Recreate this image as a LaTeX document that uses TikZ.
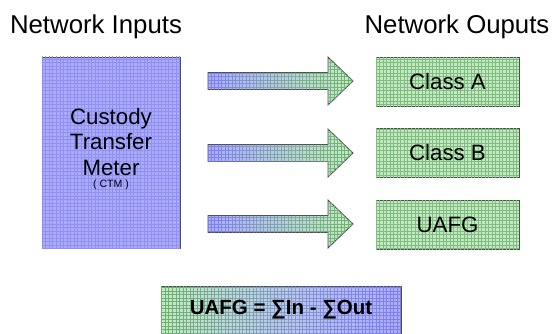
\documentclass[tikz,border=0pt]{standalone}
\usepackage{fontspec}
\setmainfont{Liberation Sans}
\usetikzlibrary{patterns,shadows,fadings}

\definecolor{ctmblue}{RGB}{172,172,255}
\definecolor{gridblue}{RGB}{70,70,235}
\definecolor{outgreen}{RGB}{196,232,196}
\definecolor{gridgreen}{RGB}{70,160,70}

\tikzset{
  plaid/.style={postaction={pattern=grid,pattern color=#1}},
  box/.style={draw=black!70,line width=0.7pt,
    drop shadow={shadow xshift=0.6pt,shadow yshift=-0.6pt,opacity=0.35}},
  inbox/.style={box,fill=ctmblue,plaid=gridblue!60,align=center,
    minimum width=4.14cm,minimum height=5.73cm},
  outbox/.style={box,fill=outgreen,plaid=gridgreen!70,
    minimum width=4.29cm,minimum height=1.47cm,font=\fontsize{19}{22}\selectfont},
  head/.style={font=\fontsize{22}{26}\selectfont},
  % blue on the left, green on the right (and the other way round)
  bluegreen/.style={draw=black!70,line width=0.7pt,left color=ctmblue,right color=outgreen,
    postaction={pattern=grid,pattern color=gridblue!70,path fading=east},
    postaction={pattern=grid,pattern color=gridgreen!80,path fading=west}},
  greenblue/.style={draw=black!70,line width=0.7pt,left color=outgreen,right color=ctmblue,
    postaction={pattern=grid,pattern color=gridgreen!80,path fading=east},
    postaction={pattern=grid,pattern color=gridblue!70,path fading=west}}
}

\begin{document}
\begin{tikzpicture}[x=0.03cm,y=-0.03cm]
  \useasboundingbox (0,0) rectangle (558,333);

  \node[head] (inputs) at (96,27) {Network Inputs};
  \node[head] (outputs) at (457,27) {Network Ouputs};

  % the meter
  \node[inbox] (ctm) at (111,152.5) {};
  \node[align=center,font=\fontsize{19}{22}\selectfont] (ctmtext) at (111,142)
    {Custody\\Transfer\\Meter};
  \node[font=\fontsize{9}{10}\selectfont,below=-4pt] (ctmabbr) at (ctmtext.south) {( CTM )};

  % the outputs
  \node[outbox] (classa) at (447.5,81.5) {Class A};
  \node[outbox] (classb) at (447.5,153) {Class B};
  \node[outbox] (uafg) at (447.5,225) {UAFG};

  % block arrows
  \foreach \y in {81,153,224} {
    \path[bluegreen] (208,\y-8.5) -- (328,\y-8.5) -- (328,\y-24) -- (353,\y)
      -- (328,\y+24) -- (328,\y+8.5) -- (208,\y+8.5) -- cycle;
  }

  % balance
  \path[greenblue] (161,286) rectangle (401,340);
  \node[font=\bfseries\fontsize{17.5}{20}\selectfont] (balance) at (281,310)
    {UAFG = ∑In - ∑Out};
\end{tikzpicture}
\end{document}
